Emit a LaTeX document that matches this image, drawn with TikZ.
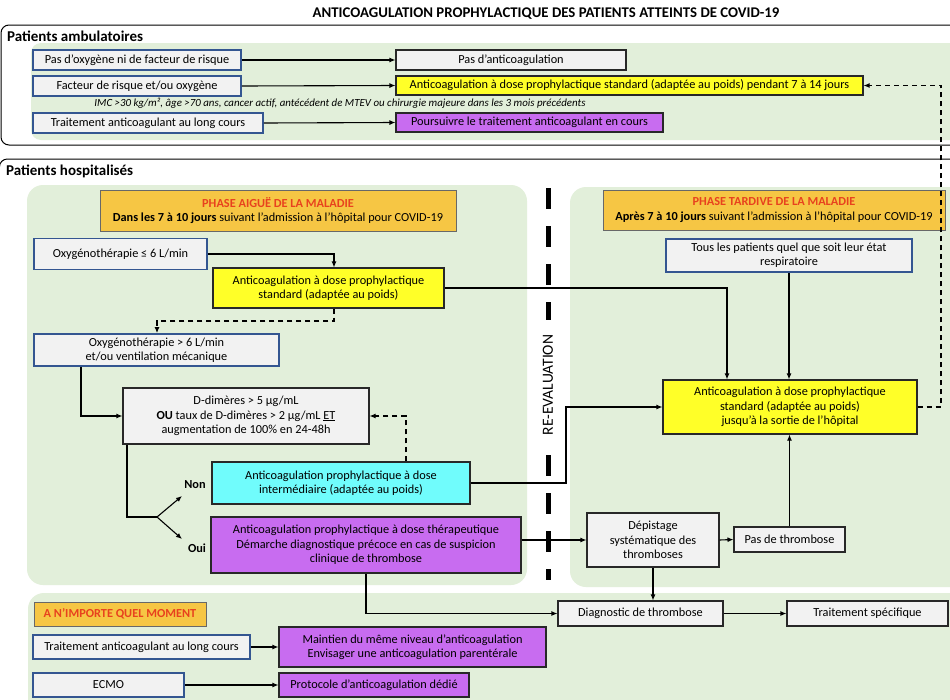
\documentclass[tikz,border=0pt]{standalone}
\usepackage{fontspec}
\setmainfont{Carlito}
\usetikzlibrary{arrows.meta}
\definecolor{panelgreen}{RGB}{226,239,218}
\definecolor{boxgray}{RGB}{242,242,242}
\definecolor{boxblue}{RGB}{52,86,145}
\definecolor{ylw}{RGB}{255,255,40}
\definecolor{purp}{RGB}{200,108,240}
\definecolor{cyn}{RGB}{112,252,252}
\definecolor{orng}{RGB}{246,198,68}
\definecolor{redt}{RGB}{232,66,30}
\definecolor{darkline}{RGB}{40,40,40}
\begin{document}
\begin{tikzpicture}[x=1pt,y=-1pt,
  every node/.style={font=\fontsize{12.3}{14.3}\selectfont, inner sep=1pt, align=center},
  bx/.style={draw=darkline, line width=1.1pt, fill=boxgray, rectangle},
  bluebx/.style={draw=boxblue, line width=1.8pt, fill=boxgray, rectangle},
  ybx/.style={bx, fill=ylw},
  pbx/.style={bx, fill=purp},
  cbx/.style={bx, fill=cyn},
  obx/.style={draw=darkline!70, line width=0.8pt, fill=orng, rectangle},
  arr/.style={-{Latex[length=6pt,width=5pt]}, line width=1.1pt, draw=black},
  dasharr/.style={arr, dash pattern=on 5pt off 4pt},
  plain/.style={line width=1.1pt, draw=black},
]
\useasboundingbox (0,0) rectangle (950,699);
\clip (0,0) rectangle (950,699);
\fill[white] (0,0) rectangle (950,699);

% frames and panels
\fill[panelgreen, rounded corners=10pt] (31,43) rectangle (1010,140);
\draw[line width=1pt, rounded corners=8pt] (1,25) rectangle (1010,145);
\draw[line width=1pt, rounded corners=8pt] (-0.6,159) rectangle (1010,1010);
\fill[panelgreen, rounded corners=16pt] (27,185) rectangle (527,585);
\fill[panelgreen, rounded corners=16pt] (570,187) rectangle (1010,587);
\fill[panelgreen, rounded corners=16pt] (28,593) rectangle (1010,760);

% titles
\node[font=\bfseries\fontsize{14.8}{16}\selectfont] (title) at (546,14) {ANTICOAGULATION PROPHYLACTIQUE DES PATIENTS ATTEINTS DE COVID-19};
\node[anchor=west, font=\bfseries\fontsize{15}{17}\selectfont] (pamb) at (6,36) {Patients ambulatoires};
\node[anchor=west, font=\bfseries\fontsize{15}{17}\selectfont] (phosp) at (5,171) {Patients hospitalisés};

% re-evaluation divider
\draw[line width=5pt, dash pattern=on 21pt off 17pt] (548,188) -- (548,320);
\draw[line width=5pt, dash pattern=on 21pt off 17pt] (548,455) -- (548,580);
\node[rotate=90, font=\fontsize{15.5}{17}\selectfont] (reeval) at (548,385) {RE-EVALUATION};

% ambulatory
\node[bluebx, minimum width=208pt, minimum height=20pt] (a1) at (137,60) {Pas d’oxygène ni de facteur de risque};
\node[bluebx, minimum width=208pt, minimum height=20pt] (a2) at (137,86) {Facteur de risque et/ou oxygène};
\node[font=\itshape\fontsize{10.9}{12}\selectfont] (imc) at (340,103) {IMC >30 kg/m², âge >70 ans, cancer actif, antécédent de MTEV ou chirurgie majeure dans les 3 mois précédents};
\node[bluebx, minimum width=230pt, minimum height=20pt] (a3) at (148,123) {Traitement anticoagulant au long cours};
\node[bx, minimum width=230pt, minimum height=20pt] (b1) at (511,60) {Pas d’anticoagulation};
\node[ybx, minimum width=467pt, minimum height=19pt] (b2) at (629.5,85.5) {Anticoagulation à dose prophylactique standard (adaptée au poids) pendant 7 à 14 jours};
\node[pbx, minimum width=267pt, minimum height=19pt] (b3) at (529.5,122.5) {Poursuivre le traitement anticoagulant en cours};
\draw[arr] (a1.east) -- (b1.west);
\draw[arr] (a2.east -| a1.east) -- (b2.west);
\draw[arr] (a3.east) -- (b3.west);

% hospital: acute phase
\node[obx, minimum width=356pt, minimum height=41pt] (hl) at (278,210.5) {\textcolor{redt}{\textbf{PHASE AIGUË DE LA MALADIE}}\\\textbf{Dans les 7 à 10 jours} suivant l’admission à l’hôpital pour COVID-19};
\node[bluebx, minimum width=173pt, minimum height=31pt] (o1) at (120.5,254) {Oxygénothérapie ≤ 6 L/min};
\node[ybx, minimum width=231pt, minimum height=40pt] (y1) at (328.5,288) {Anticoagulation à dose prophylactique\\standard (adaptée au poids)};
\node[bluebx, minimum width=245pt, minimum height=32pt] (o2) at (156.5,350) {Oxygénothérapie > 6 L/min\\et/ou ventilation mécanique};
\node[bx, minimum width=246pt, minimum height=56pt] (dd) at (246,416) {D-dimères > 5 µg/mL\\\textbf{OU} taux de D-dimères > 2 µg/mL \underline{ET}\\augmentation de 100\% en 24-48h};
\node[cbx, minimum width=258pt, minimum height=42pt] (cy) at (341,483) {Anticoagulation prophylactique à dose\\intermédiaire (adaptée au poids)};
\node[pbx, minimum width=310pt, minimum height=56pt] (pu) at (366,545) {Anticoagulation prophylactique à dose thérapeutique\\Démarche diagnostique précoce en cas de suspicion\\clinique de thrombose};
\node[font=\bfseries\fontsize{12.3}{14}\selectfont] (non) at (195,485) {Non};
\node[font=\bfseries\fontsize{12.3}{14}\selectfont] (oui) at (197,548) {Oui};

\coordinate (d1) at (157,321);
\coordinate (br) at (157,517);
\coordinate (nonend) at (182,496);
\coordinate (ouiend) at (182,539);
\coordinate (k1) at (566,0);
\coordinate (k2) at (727,0);
\coordinate (k3) at (941,0);

\draw[arr] (o1.east) -| ([xshift=5.5pt]y1.north);
\draw[dasharr] ([xshift=5.5pt]y1.south) |- (d1) -- (d1 |- o2.north);
\draw[arr] ([xshift=-75.5pt]o2.south) |- (dd.west);
\draw[plain] ([xshift=-119pt]dd.south) |- (br);
\draw[arr] (br) -- (nonend);
\draw[arr] (br) -- (ouiend);
\draw[dasharr] ([xshift=65pt]cy.north) |- (dd.east);

% hospital: late phase
\node[obx, minimum width=342pt, minimum height=40pt] (hr) at (774,210) {\textcolor{redt}{\textbf{PHASE TARDIVE DE LA MALADIE}}\\\textbf{Après 7 à 10 jours} suivant l’admission à l’hôpital pour COVID-19};
\node[bluebx, minimum width=246pt, minimum height=33pt] (tous) at (789,255.5) {Tous les patients quel que soit leur état\\respiratoire};
\node[ybx, minimum width=254pt, minimum height=54pt] (hy) at (790,407) {Anticoagulation à dose prophylactique\\standard (adaptée au poids)\\jusqu’à la sortie de l’hôpital};
\node[bx, minimum width=132pt, minimum height=54pt] (dep) at (653,540) {Dépistage\\systématique des\\thromboses};
\node[bx, minimum width=111pt, minimum height=25pt] (pdt) at (789.5,539.5) {Pas de thrombose};

\draw[arr] (y1.east) -| (k2 |- hy.north);
\draw[arr] (tous.south) -- (tous.south |- hy.north);
\draw[arr] (cy.east) -| (k1 |- hy.west) -- (hy.west);
\draw[arr] (pu.east |- dep.west) -- (dep.west);
\draw[arr] (dep.east) -- (pdt.west);
\draw[arr] (pdt.north) -- (pdt.north |- hy.south);
\draw[dasharr] (hy.east) -| (k3 |- b2.east) -- (b2.east);

% any time
\node[bx, minimum width=165pt, minimum height=25pt] (diag) at (640.5,613.5) {Diagnostic de thrombose};
\node[bx, minimum width=161pt, minimum height=25pt] (ts) at (867.5,613.5) {Traitement spécifique};
\node[obx, minimum width=172pt, minimum height=24pt] (hm) at (120,614) {\textcolor{redt}{\textbf{A N’IMPORTE QUEL MOMENT}}};
\node[bluebx, minimum width=217pt, minimum height=24pt] (t2) at (141.5,647) {Traitement anticoagulant au long cours};
\node[pbx, minimum width=267pt, minimum height=40pt] (m1) at (412.5,647) {Maintien du même niveau d’anticoagulation\\Envisager une anticoagulation parentérale};
\node[bluebx, minimum width=151pt, minimum height=24pt] (ecmo) at (108.5,685) {ECMO};
\node[pbx, minimum width=190pt, minimum height=24pt] (prot) at (374,685) {Protocole d’anticoagulation dédié};

\draw[arr] (dep.south) -- (dep.south |- diag.north);
\draw[arr] (pu.south) |- (diag.west);
\draw[arr] (diag.east) -- (ts.west);
\draw[arr] (t2.east) -- (m1.west);
\draw[arr] (ecmo.east) -- (prot.west);
\end{tikzpicture}
\end{document}
